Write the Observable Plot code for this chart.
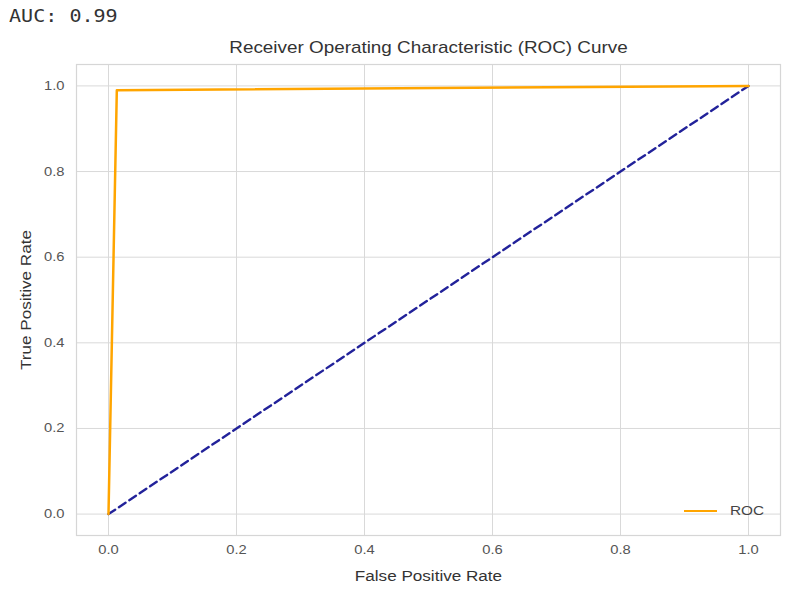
<!DOCTYPE html>
<html>
<head>
<meta charset="utf-8">
<script src="https://cdn.jsdelivr.net/npm/d3@7"></script>
<script src="https://cdn.jsdelivr.net/npm/@observablehq/plot@0.6"></script>
<style>
  html, body { margin: 0; padding: 0; background: #fff; }
  #wrap { position: relative; width: 787px; height: 590px; overflow: hidden; }
  #auc { font-family: "DejaVu Sans Mono", monospace; font-size: 17px; color: #333; height: 30px; line-height: 32px; padding-left: 9px; }
  #auc span { display: inline-block; transform: scaleX(1.18); transform-origin: 0 50%; }
  #legend { position: absolute; left: 684px; top: 503px; display: flex; align-items: center; font-family: "Liberation Sans", Arial, sans-serif; font-size: 13px; color: #444; }
  #legend .sw { width: 33px; height: 0; border-top: 2.5px solid #FFA500; margin-right: 13px; }
  #legend .lt { display: inline-block; transform: scaleX(1.18); transform-origin: 0 50%; }
</style>
</head>
<body>
<div id="wrap">
  <div id="auc"><span></span></div>
  <div id="chart"></div>
  <div id="legend"><span class="sw"></span><span class="lt">ROC</span></div>
</div>
<script>
const aucLabel = "AUC: 0.99";
const fpr = [0.0, 0.013, 1.0];
const tpr = [0.0, 0.99, 1.0];
const diagX = [0, 1];
const diagY = [0, 1];
const ticks = [0, 0.2, 0.4, 0.6, 0.8, 1.0];
const titleText = "Receiver Operating Characteristic (ROC) Curve";
const xLabel = "False Positive Rate";
const yLabel = "True Positive Rate";

const roc = fpr.map((x, i) => ({x, y: tpr[i]}));
const diag = diagX.map((x, i) => ({x, y: diagY[i]}));

document.querySelector("#auc span").textContent = aucLabel;

const chart = Plot.plot({
  width: 787,
  height: 560,
  marginLeft: 76,
  marginRight: 7,
  marginTop: 34,
  marginBottom: 55,
  style: { fontFamily: "'Liberation Sans', Arial, sans-serif", fontSize: "12.5px", color: "#555", background: "#fff" },
  x: { domain: [-0.05, 1.05], label: null },
  y: { domain: [-0.05, 1.05], label: null },
  marks: [
    Plot.gridX(ticks, { stroke: "#d9d9d9", strokeOpacity: 1, strokeWidth: 1 }),
    Plot.gridY(ticks, { stroke: "#d9d9d9", strokeOpacity: 1, strokeWidth: 1 }),
    Plot.frame({ stroke: "#d6d6d6", strokeWidth: 1.2 }),
    Plot.axisX(ticks, { tickSize: 0, tickPadding: 10, tickFormat: d3.format(".1f"), label: null, fill: "#555", fontSize: 12.5 }),
    Plot.axisY(ticks, { tickSize: 0, tickPadding: 12, tickFormat: d3.format(".1f"), label: null, fill: "#555", fontSize: 12.5 }),
    Plot.line(diag, { x: "x", y: "y", stroke: "#22229a", strokeWidth: 2.4, strokeDasharray: "8,4.5" }),
    Plot.line(roc, { x: "x", y: "y", stroke: "#FFA500", strokeWidth: 2.5 }),
    Plot.text([titleText], { frameAnchor: "top", lineAnchor: "middle", dy: -17, text: d => d, fontSize: 16, fill: "#333" }),
    Plot.text([xLabel], { frameAnchor: "bottom", lineAnchor: "middle", dy: 41, text: d => d, fontSize: 14.5, fill: "#333" }),
    Plot.text([yLabel], { frameAnchor: "left", textAnchor: "middle", lineAnchor: "middle", dx: -50.5, rotate: -90, text: d => d, fontSize: 14.5, fill: "#333" })
  ]
});
chart.querySelectorAll("text").forEach(t => {
  const tr = t.getAttribute("transform") || "";
  t.setAttribute("transform", tr + " scale(1.18,1)");
});
document.getElementById("chart").appendChild(chart);
</script>
</body>
</html>
